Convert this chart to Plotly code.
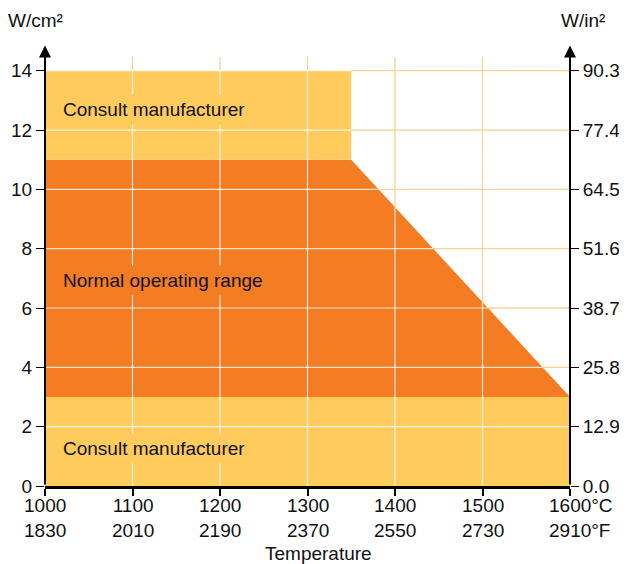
import numpy as np
import plotly.graph_objects as go

# ---- data ----
temps_c = [1000, 1100, 1200, 1300, 1400, 1500, 1600]
temps_f = [1830, 2010, 2190, 2370, 2550, 2730, 2910]
wcm_ticks = [0, 2, 4, 6, 8, 10, 12, 14]
win_labels = ["0.0", "12.9", "25.8", "38.7", "51.6", "64.5", "77.4", "90.3"]

# region boundaries (temperature °C, W/cm²)
low_x = [1000, 1600, 1600, 1000]
low_y = [0, 0, 3, 3]
normal_x = [1000, 1600, 1350, 1000]
normal_y = [3, 3, 11, 11]
high_x = [1000, 1350, 1350, 1000]
high_y = [11, 11, 14, 14]

LIGHT = "#FECB5C"
ORANGE = "#F47C22"
GRID = "#FDD197"
FONT = "Liberation Sans, Arial, sans-serif"
FS = 19

fig = go.Figure()
for xs, ys, col in [(low_x, low_y, LIGHT), (normal_x, normal_y, ORANGE), (high_x, high_y, LIGHT)]:
    fig.add_trace(go.Scatter(x=xs + [xs[0]], y=ys + [ys[0]], fill="toself", fillcolor=col,
                             mode="lines", line=dict(width=0), hoverinfo="skip", showlegend=False))

# invisible trace for right axis
fig.add_trace(go.Scatter(x=[1000], y=[0], yaxis="y2", mode="markers",
                         marker=dict(opacity=0), showlegend=False, hoverinfo="skip"))

def top_at(x):
    if x <= 1350:
        return 14
    return float(np.interp(x, [1350, 1600], [11, 3]))

def right_at(y):
    if y <= 3:
        return 1600
    if y <= 11:
        return float(np.interp(y, [3, 11], [1600, 1350]))
    return 1350

shapes = []
for x in temps_c[1:-1]:
    shapes.append(dict(type="line", layer="below", x0=x, x1=x, y0=0, y1=14.47, xref="x", yref="y",
                       line=dict(color=GRID, width=1.3)))
for y in wcm_ticks[1:]:
    shapes.append(dict(type="line", layer="below", x0=1000, x1=1600, y0=y, y1=y, xref="x", yref="y",
                       line=dict(color=GRID, width=1.3)))
for x in temps_c[1:-1]:
    shapes.append(dict(type="line", layer="above", x0=x, x1=x, y0=0, y1=top_at(x), xref="x", yref="y",
                       line=dict(color="rgba(255,255,255,0.8)", width=1.2)))
for y in wcm_ticks[1:]:
    shapes.append(dict(type="line", layer="above", x0=1000, x1=right_at(y), y0=y, y1=y, xref="x", yref="y",
                       line=dict(color="rgba(255,255,255,0.8)", width=1.2)))

annotations = []
for xa in [1000, 1600]:
    annotations.append(dict(x=xa, y=14.85, ax=xa, ay=0, xref="x", yref="y", axref="x", ayref="y",
                            text="", showarrow=True, arrowhead=2, arrowsize=1.2, arrowwidth=2,
                            arrowcolor="black", standoff=0, startstandoff=0))
for txt, y, bg in [("Consult manufacturer", 12.69, LIGHT), ("Normal operating range", 6.92, ORANGE),
                   ("Consult manufacturer", 1.28, LIGHT)]:
    annotations.append(dict(x=1014.5, y=y, xref="x", yref="y", text=txt, showarrow=False,
                            xanchor="left", yanchor="middle", bgcolor=bg, borderpad=4,
                            font=dict(size=FS, color="#111", family=FONT)))
for i, (c, f) in enumerate(zip(temps_c, temps_f)):
    last = i == len(temps_c) - 1
    annotations.append(dict(x=c, y=-0.0735, xref="x", yref="paper",
                            text=(f"{c}°C<br>{f}°F" if last else f"{c}<br>{f}"),
                            showarrow=False, xanchor="left" if last else "center",
                            xshift=-23 if last else 0, align="left" if last else "center",
                            yanchor="middle", font=dict(size=FS, color="#111", family=FONT)))
annotations.append(dict(x=0.52, y=-0.1516, xref="paper", yref="paper", text="Temperature",
                        showarrow=False, xanchor="center", yanchor="middle",
                        font=dict(size=FS, color="#111", family=FONT)))
annotations.append(dict(x=-0.019, y=1.054, xref="paper", yref="paper", text="W/cm²",
                        showarrow=False, xanchor="center", yanchor="middle",
                        font=dict(size=FS, color="#111", family=FONT)))
annotations.append(dict(x=1.025, y=1.054, xref="paper", yref="paper", text="W/in²",
                        showarrow=False, xanchor="center", yanchor="middle",
                        font=dict(size=FS, color="#111", family=FONT)))

# the page adds an 8px body margin, so the figure is offset by 8px
fig.update_layout(
    width=619, height=556,
    margin=dict(l=37, r=57, t=36, b=78),
    paper_bgcolor="white", plot_bgcolor="white",
    font=dict(family=FONT, size=FS, color="#111"),
    xaxis=dict(range=[1000, 1600], tickvals=temps_c, showticklabels=False, ticks="outside",
               ticklen=7, tickwidth=1.5, tickcolor="black", showgrid=False, zeroline=False,
               showline=True, linecolor="black", linewidth=2.5, automargin=False),
    yaxis=dict(range=[0, 14.9], tickvals=wcm_ticks, ticktext=[str(v) for v in wcm_ticks],
               ticks="outside", ticklen=8, tickwidth=1.3, tickcolor="black", showgrid=False,
               zeroline=False, showline=False, automargin=False),
    yaxis2=dict(range=[0, 14.9], overlaying="y", side="right", tickvals=wcm_ticks,
                ticktext=win_labels, ticks="outside", ticklen=8, tickwidth=1.3,
                tickcolor="black", showgrid=False, zeroline=False, showline=False,
                automargin=False),
    shapes=shapes, annotations=annotations,
)

fig.write_html("out.html")
